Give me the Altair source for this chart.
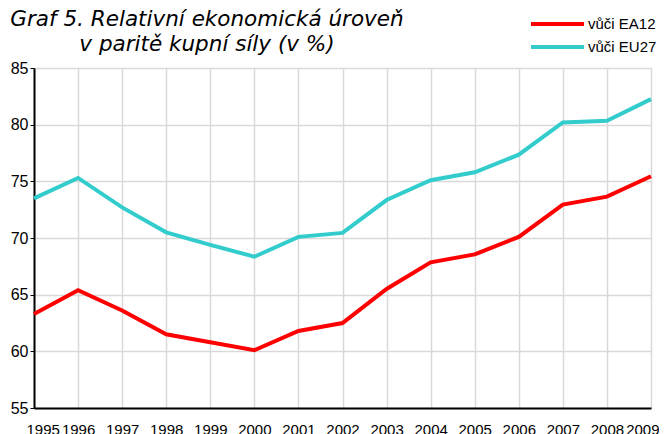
import altair as alt
import pandas as pd

years = list(range(1995, 2010))
ea12 = [63.3, 65.4, 63.6, 61.5, 60.8, 60.1, 61.8, 62.5, 65.5, 67.85, 68.55, 70.1, 72.95, 73.65, 75.45]
eu27 = [73.5, 75.3, 72.7, 70.5, 69.4, 68.35, 70.1, 70.45, 73.35, 75.1, 75.8, 77.35, 80.2, 80.35, 82.25]
series_names = ["vůči EA12", "vůči EU27"]
series_colors = ["#FF0000", "#33CCCC"]
y_ticks = [55, 60, 65, 70, 75, 80, 85]
title_lines = ["Graf 5. Relativní ekonomická úroveň", "v paritě kupní síly (v %)"]

rows = []
for name, vals in zip(series_names, [ea12, eu27]):
    for yr, v in zip(years, vals):
        rows.append({"rok": yr, "hodnota": v, "serie": name})
df = pd.DataFrame(rows)

FONT = "Liberation Sans"

chart = (
    alt.Chart(df)
    .mark_line(strokeWidth=4, strokeCap="butt", strokeJoin="miter")
    .encode(
        x=alt.X(
            "rok:Q",
            scale=alt.Scale(domain=[1995, 2009], nice=False, zero=False),
            axis=alt.Axis(
                values=years, format="d", title=None, ticks=False,
                labelOverlap=False, labelFlush=True, labelFlushOffset=8,
                labelFontSize=15,
                labelFont=FONT, labelColor="black", labelPadding=14,
                domainColor="black", domainWidth=2,
                grid=True, gridColor="#d9d9d9", gridWidth=1.5,
            ),
        ),
        y=alt.Y(
            "hodnota:Q",
            scale=alt.Scale(domain=[55, 85], nice=False, zero=False),
            axis=alt.Axis(
                values=y_ticks, title=None, ticks=True, tickSize=4,
                tickColor="black", tickWidth=1, labelFontSize=16,
                labelFont=FONT, labelColor="black", labelPadding=2,
                domainColor="black", domainWidth=2,
                grid=True, gridColor="#d9d9d9", gridWidth=1.5,
            ),
        ),
        color=alt.Color(
            "serie:N",
            scale=alt.Scale(domain=series_names, range=series_colors),
            legend=alt.Legend(
                title=None, orient="none", legendX=495, legendY=-54,
                symbolType="stroke", symbolSize=2809, symbolStrokeWidth=4,
                labelFontSize=15, labelFont=FONT, labelColor="black",
                labelOffset=2, clipHeight=20, rowPadding=3,
            ),
        ),
    )
    .properties(
        width=617,
        height=340,
        padding={"left": 26, "top": 60, "right": 8, "bottom": 26},
        autosize=alt.AutoSizeParams(type="none"),
        title=alt.TitleParams(
            text=title_lines, font="DejaVu Sans", fontSize=21.5, fontStyle="italic",
            fontWeight="normal", color="black", anchor="start", align="center",
            baseline="alphabetic", frame="group", dx=173, dy=59, offset=0,
            lineHeight=25.6,
        ),
    )
    .configure_view(stroke="#666666", strokeWidth=1.5)
    .configure(background="white")
)

chart.save("out.html", embed_options={"renderer": "svg", "actions": False})
